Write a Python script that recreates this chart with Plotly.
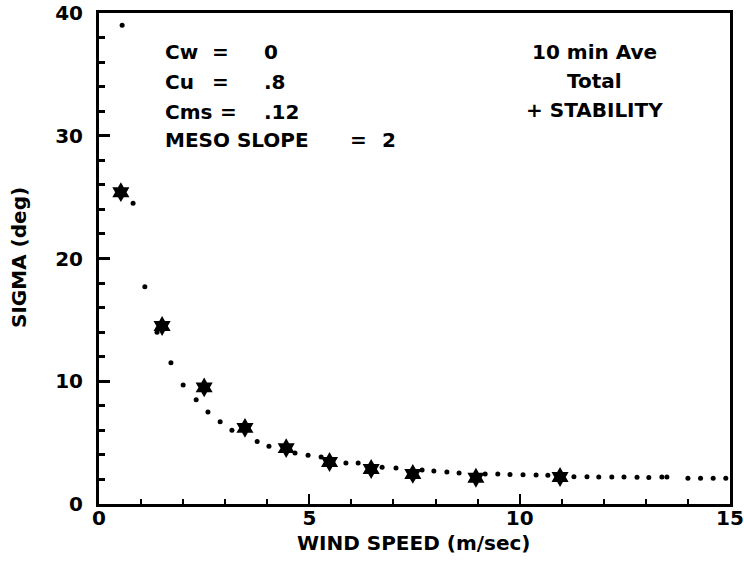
import plotly.graph_objects as go

# ---------------- data ----------------
wind_star = [0.52, 1.5, 2.5, 3.47, 4.45, 5.48, 6.47, 7.46, 8.96, 10.96]
sigma_star = [25.4, 14.5, 9.5, 6.2, 4.55, 3.42, 2.85, 2.45, 2.14, 2.2]

wind_dot = [0.55, 0.81, 1.09, 1.38, 1.71, 2.0, 2.31, 2.59, 2.88, 3.16,
            3.76, 4.04, 4.66, 4.97, 5.28, 5.87, 6.16, 6.73, 7.06, 7.68,
            7.96, 8.27, 8.56, 9.18, 9.48, 9.77, 10.08, 10.39, 10.67, 11.29,
            11.6, 11.88, 12.19, 12.48, 12.79, 13.07, 13.38, 13.5, 14.0, 14.3,
            14.6, 14.9]
sigma_dot = [39.0, 24.5, 17.7, 14.0, 11.5, 9.7, 8.5, 7.5, 6.7, 6.0,
             5.1, 4.7, 4.15, 3.98, 3.82, 3.33, 3.33, 3.0, 2.93, 2.76,
             2.68, 2.6, 2.52, 2.44, 2.44, 2.4, 2.38, 2.36, 2.34, 2.22,
             2.22, 2.2, 2.2, 2.2, 2.18, 2.15, 2.2, 2.2, 2.1, 2.1,
             2.1, 2.1]

x_ticks = [0, 5, 10, 15]
y_ticks = [0, 10, 20, 30, 40]

params = [('Cw', '0'), ('Cu', '.8'), ('Cms', '.12')]
meso = ('MESO SLOPE', '2')
right_text = ['10 min Ave', 'Total', '+ STABILITY']

# ---------------- layout helpers ----------------
W, H = 744, 563
L, R, T, B = 99, 730, 13, 504          # plot frame in pixels


def px(x):
    return (x - L) / (R - L)


def py(y):
    return (B - y) / (B - T)


FONT = dict(family='DejaVu Sans', size=20, color='black', weight='bold')

fig = go.Figure()

fig.add_trace(go.Scatter(x=wind_dot, y=sigma_dot, mode='markers',
                         marker=dict(symbol='circle', size=5, color='black'),
                         showlegend=False, cliponaxis=False))
fig.add_trace(go.Scatter(x=wind_star, y=sigma_star, mode='markers',
                         marker=dict(symbol='hexagram', size=15, color='black'),
                         showlegend=False, cliponaxis=False))

# ---------------- annotations ----------------
ann = []
rows_y = [52, 82, 112]
eq_x = [220, 220, 228]
for (name, val), yy, ex in zip(params, rows_y, eq_x):
    ann.append(dict(x=px(163), y=py(yy), text=name, xanchor='left'))
    ann.append(dict(x=px(ex), y=py(yy), text='=', xanchor='center'))
    ann.append(dict(x=px(262), y=py(yy), text=val, xanchor='left'))
ann.append(dict(x=px(163), y=py(140), text=meso[0], xanchor='left'))
ann.append(dict(x=px(358), y=py(140), text='=', xanchor='center'))
ann.append(dict(x=px(380), y=py(140), text=meso[1], xanchor='left'))

for txt, yy in zip(right_text, [52, 81, 110]):
    ann.append(dict(x=px(594), y=py(yy), text=txt, xanchor='center'))

ann.append(dict(x=px(414), y=py(543), text='WIND SPEED (m/sec)', xanchor='center'))
ann.append(dict(x=px(19), y=py(258), text='SIGMA (deg)', textangle=-90,
                xanchor='center'))

for a in ann:
    a.update(xref='paper', yref='paper', yanchor='middle', showarrow=False,
             font=FONT)

fig.update_layout(
    width=W, height=H,
    margin=dict(l=L, r=W - R, t=T, b=H - B, autoexpand=False),
    paper_bgcolor='white', plot_bgcolor='white',
    annotations=ann,
    xaxis=dict(range=[0, 15], tickvals=x_ticks, showgrid=False, zeroline=False,
               showline=True, linecolor='black', linewidth=3, mirror=True,
               ticks='inside', ticklen=10, tickwidth=2, tickcolor='black',
               minor=dict(dtick=1, ticks='inside', ticklen=5, tickwidth=2,
                          tickcolor='black', showgrid=False),
               tickfont=FONT, ticklabelstandoff=-6, automargin=False),
    yaxis=dict(range=[0, 40], tickvals=y_ticks, showgrid=False, zeroline=False,
               showline=True, linecolor='black', linewidth=3, mirror=True,
               ticks='inside', ticklen=11, tickwidth=3, tickcolor='black',
               minor=dict(dtick=2, ticks='inside', ticklen=6, tickwidth=3,
                          tickcolor='black', showgrid=False),
               tickfont=FONT, ticklabelstandoff=9, automargin=False),
)

# drop the default 8px page margin so the figure sits at the window corner
fig.write_html("out.html", config={'displayModeBar': False},
               post_script="document.body.style.margin='0px';")
